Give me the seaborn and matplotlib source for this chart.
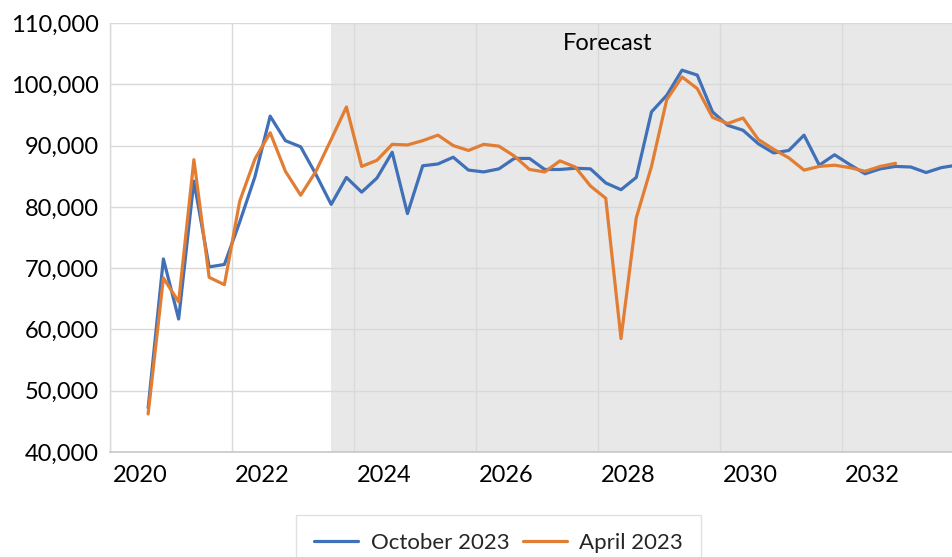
import matplotlib
matplotlib.use("Agg")
import matplotlib.pyplot as plt
import matplotlib.ticker as mticker
import numpy as np
import pandas as pd
import seaborn as sns

# ---- data (quarterly, first point = 2020 Q1) ----
october_2023 = [47200, 71500, 61700, 84200, 70200, 70600, 77500, 84900,
                94800, 90800, 89800, 85300, 80400, 84800, 82400, 84700,
                88900, 78900, 86700, 87000, 88100, 86000, 85700, 86200,
                87900, 87900, 86100, 86100, 86300, 86200, 83900, 82800,
                84800, 95500, 98200, 102300, 101500, 95500, 93300, 92500,
                90300, 88800, 89200, 91700, 86800, 88500, 86900, 85400,
                86200, 86600, 86500, 85600, 86400, 86800]
april_2023 = [46200, 68400, 64500, 87700, 68500, 67300, 80900, 87800,
              92100, 85800, 81900, 85800, 91000, 96300, 86600, 87600,
              90200, 90100, 90800, 91700, 90000, 89200, 90200, 89900,
              88300, 86100, 85700, 87500, 86500, 83400, 81400, 58500,
              78200, 86600, 97500, 101200, 99300, 94600, 93600, 94500,
              91000, 89400, 88000, 86000, 86600, 86800, 86400, 85800,
              86600, 87100]
start_year = 2020
year_ticks = [2020, 2022, 2024, 2026, 2028, 2030, 2032]
y_ticks = [40000, 50000, 60000, 70000, 80000, 90000, 100000, 110000]
forecast_start_index = 12
series_names = ["October 2023", "April 2023"]

def quarter_pos(n):
    return start_year + (np.arange(n) + 0.5) / 4.0

df = pd.concat([
    pd.DataFrame({"t": quarter_pos(len(october_2023)), "v": october_2023,
                  "series": series_names[0]}),
    pd.DataFrame({"t": quarter_pos(len(april_2023)), "v": april_2023,
                  "series": series_names[1]}),
])

sns.set_style("white")
plt.rcParams["font.family"] = ["Lato", "DejaVu Sans"]

fig = plt.figure(figsize=(9.52, 5.57), dpi=100)
ax = fig.add_axes([110 / 952, (557 - 452) / 557, 1 - 110 / 952, (452 - 23) / 557])

blue = "#4070B8"
orange = "#E27D34"
sns.lineplot(data=df, x="t", y="v", hue="series", palette=[blue, orange],
             linewidth=2.3, ax=ax, legend=True, zorder=3)

fstart = start_year + (forecast_start_index + 0.5) / 4.0
ax.axvspan(fstart, 2040, color="#E8E8E8", zorder=0, lw=0)

ax.set_yticks(y_ticks)
ax.yaxis.set_major_formatter(mticker.FuncFormatter(lambda v, p: f"{int(v):,}"))
ax.set_xticks(year_ticks)
ax.set_xticklabels([str(y) for y in year_ticks])
ax.set_xticks([y - 0.5 for y in year_ticks], minor=True)
ax.set_xlim(2019.5, 2033.3)
ax.set_ylim(40000, 110000)

ax.set_axisbelow(True)
ax.grid(False)
ax.yaxis.grid(True, which="major", color="#D9D9D9", linewidth=1.0, zorder=1)
ax.xaxis.grid(True, which="minor", color="#D9D9D9", linewidth=1.0, zorder=1)

ax.tick_params(axis="both", which="both", length=0, labelsize=17, colors="black")
ax.tick_params(axis="y", pad=8)
ax.tick_params(axis="x", pad=9)
ax.set_xlabel("")
ax.set_ylabel("")

for s in ["top", "right"]:
    ax.spines[s].set_visible(False)
ax.spines["left"].set_color("#D9D9D9")
ax.spines["left"].set_linewidth(1.0)
ax.spines["bottom"].set_color("#C8C8C8")
ax.spines["bottom"].set_linewidth(1.2)

ax.text(2027.65, 106700, "Forecast", ha="center", va="center", fontsize=17,
        color="black", zorder=4)

handles, labels = ax.get_legend_handles_labels()
ax.legend_.remove()
leg = fig.legend(handles, labels, loc="upper center",
                 bbox_to_anchor=(498.5 / 952, (557 - 515) / 557),
                 borderaxespad=0.0,
                 ncol=2, fontsize=16, frameon=True, fancybox=False,
                 edgecolor="#D9D9D9", handlelength=2.0, handletextpad=0.55,
                 columnspacing=0.6, borderpad=0.8)
leg.get_frame().set_linewidth(1.0)
for line in leg.get_lines():
    line.set_linewidth(2.3)

fig.savefig("out.png", dpi=100, facecolor="white")
